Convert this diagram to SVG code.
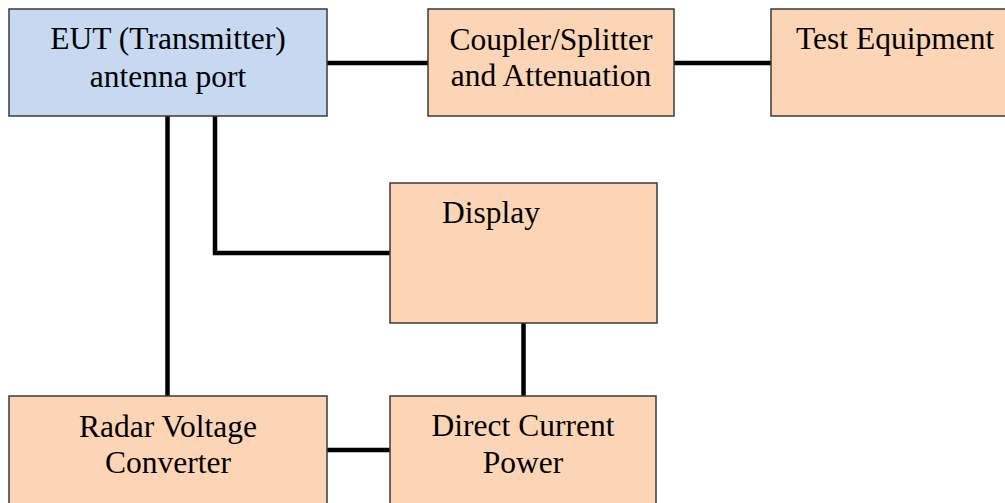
<svg xmlns="http://www.w3.org/2000/svg" width="1005" height="503" viewBox="0 0 1005 503">
<style>
.box{stroke:#3a3a3a;stroke-width:1.5}
.blue{fill:#C6D9F1}
.orange{fill:#FBD5B5}
.t{font-family:"Liberation Serif","Times New Roman",serif;font-size:31.5px;fill:#000}
.c{text-anchor:middle}
.ln{stroke:#000;stroke-width:4.5;fill:none}
</style>
<rect width="1005" height="503" fill="#fff"/>
<g id="connectors">
<line class="ln" x1="327" y1="63" x2="428" y2="63"/>
<line class="ln" x1="674" y1="63" x2="771" y2="63"/>
<polyline class="ln" points="215,116 215,253 390,253"/>
<line class="ln" x1="167.5" y1="116" x2="167.5" y2="396"/>
<line class="ln" x1="523.5" y1="323" x2="523.5" y2="396"/>
<line class="ln" x1="327" y1="450" x2="390" y2="450"/>
</g>
<g id="eut">
<rect class="box blue" x="9" y="9" width="318" height="107"/>
<text class="t c" x="168" y="49">EUT (Transmitter)</text>
<text class="t c" x="168" y="87">antenna port</text>
</g>
<g id="coupler">
<rect class="box orange" x="428" y="9" width="246" height="107"/>
<text class="t c" x="551" y="50">Coupler/Splitter</text>
<text class="t c" x="551" y="86">and Attenuation</text>
</g>
<g id="test">
<rect class="box orange" x="771" y="9" width="260" height="107"/>
<text class="t" x="796" y="49">Test Equipment</text>
</g>
<g id="display">
<rect class="box orange" x="390" y="183" width="267" height="140"/>
<text class="t" x="442" y="223">Display</text>
</g>
<g id="radar">
<rect class="box orange" x="9" y="396" width="318" height="130"/>
<text class="t c" x="168" y="437">Radar Voltage</text>
<text class="t c" x="168" y="473">Converter</text>
</g>
<g id="dc">
<rect class="box orange" x="390" y="396" width="266" height="130"/>
<text class="t c" x="523" y="436">Direct Current</text>
<text class="t c" x="523" y="473">Power</text>
</g>
</svg>
